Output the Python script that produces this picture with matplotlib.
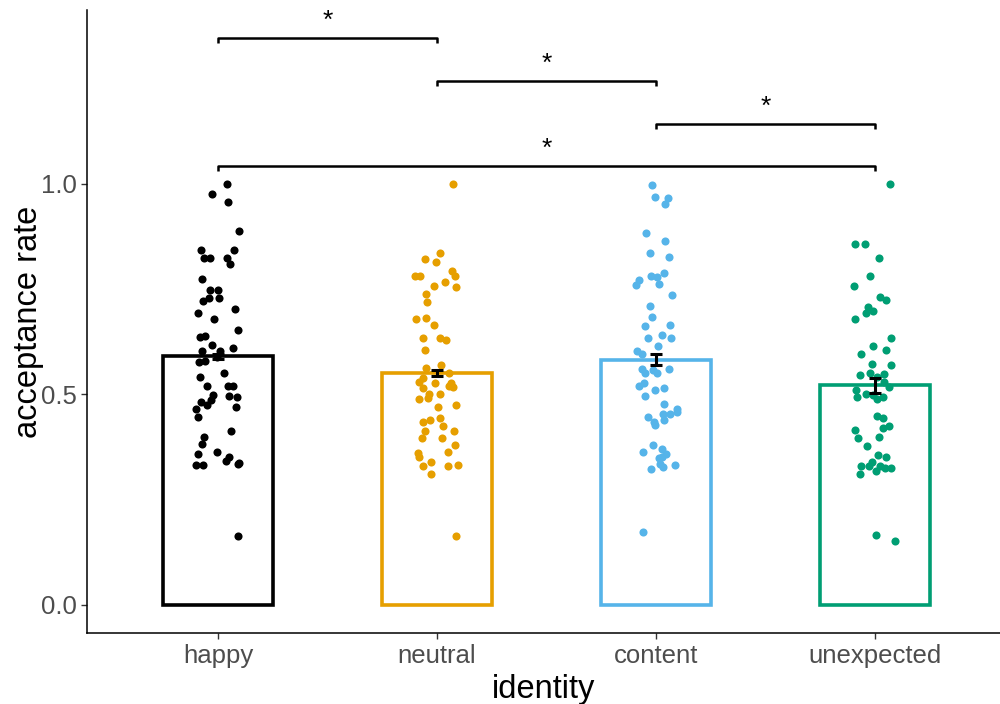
import numpy as np
import matplotlib
matplotlib.use("Agg")
import matplotlib.pyplot as plt

plt.rcParams['font.family'] = ['Liberation Sans', 'DejaVu Sans']

# groups, bar means and standard errors
groups = ['happy', 'neutral', 'content', 'unexpected']
colors = ['#000000', '#E69F00', '#56B4E9', '#009E73']
means = [0.591, 0.551, 0.582, 0.522]
errors = [0.006, 0.007, 0.013, 0.018]

# per-participant acceptance rates (jitter offset, value)
happy_dx = [0.040, -0.026, 0.044, 0.095, -0.076, 0.074, -0.064, -0.038, 0.040, 0.055,
            -0.073, -0.037, -0.001, -0.041, 0.003, -0.070, -0.090, 0.078, -0.020, 0.091,
            -0.084, -0.059, -0.027, 0.067, -0.074, 0.009, -0.006, -0.085, -0.059, 0.029,
            -0.081, -0.050, 0.044, 0.070, -0.021, 0.049, 0.087, -0.032, -0.078, -0.052,
            -0.100, 0.084, -0.090, 0.058, -0.065, -0.074, -0.090, -0.005, 0.050, 0.038,
            -0.100, -0.068, 0.090, 0.096, 0.090]
happy_y = [1.000, 0.975, 0.958, 0.888, 0.842, 0.844, 0.823, 0.825, 0.823, 0.810,
           0.774, 0.747, 0.748, 0.730, 0.730, 0.721, 0.694, 0.703, 0.678, 0.652,
           0.637, 0.639, 0.618, 0.611, 0.604, 0.602, 0.590, 0.576, 0.580, 0.550,
           0.542, 0.521, 0.520, 0.521, 0.498, 0.496, 0.495, 0.487, 0.481, 0.474,
           0.465, 0.470, 0.447, 0.414, 0.398, 0.382, 0.359, 0.363, 0.351, 0.343,
           0.333, 0.333, 0.335, 0.336, 0.164]

neutral_dx = [0.074, 0.015, -0.053, -0.006, -0.100, -0.078, 0.070, 0.084, 0.038, -0.012,
              0.088, -0.049, -0.047, -0.096, -0.050, -0.015, -0.063, 0.014, 0.042, -0.055,
              -0.052, 0.017, 0.055, -0.082, -0.063, -0.009, 0.064, -0.065, 0.074, 0.056,
              -0.038, 0.014, -0.084, -0.040, 0.087, 0.005, -0.064, -0.033, 0.014, 0.026,
              -0.055, 0.076, -0.067, 0.024, 0.081, 0.052, -0.085, -0.082, -0.064, -0.026,
              0.052, 0.095, -0.026, 0.087]
neutral_y = [1.000, 0.835, 0.821, 0.814, 0.780, 0.781, 0.793, 0.780, 0.767, 0.758,
             0.755, 0.739, 0.719, 0.678, 0.682, 0.664, 0.633, 0.633, 0.630, 0.606,
             0.562, 0.570, 0.550, 0.530, 0.538, 0.528, 0.527, 0.516, 0.517, 0.520,
             0.501, 0.501, 0.489, 0.491, 0.474, 0.470, 0.435, 0.440, 0.444, 0.425,
             0.414, 0.413, 0.396, 0.396, 0.380, 0.364, 0.360, 0.351, 0.330, 0.340,
             0.330, 0.332, 0.312, 0.163]

content_dx = [-0.018, -0.006, 0.056, 0.040, -0.046, 0.042, -0.029, 0.058, 0.035, -0.023,
              0.003, -0.079, -0.091, 0.014, 0.073, -0.026, -0.020, -0.049, 0.064, 0.027,
              -0.035, 0.068, 0.011, -0.085, -0.065, -0.063, -0.049, -0.015, 0.006, 0.061,
              -0.078, -0.056, -0.003, 0.038, -0.052, 0.038, -0.035, 0.031, 0.064, 0.097,
              0.096, -0.008, -0.005, 0.038, -0.014, -0.061, 0.029, 0.046, 0.012, 0.026,
              0.018, 0.031, -0.023, 0.085, -0.061]
content_y = [0.998, 0.968, 0.967, 0.953, 0.883, 0.864, 0.836, 0.826, 0.789, 0.781,
             0.779, 0.771, 0.760, 0.762, 0.736, 0.709, 0.684, 0.662, 0.665, 0.642,
             0.635, 0.633, 0.615, 0.603, 0.595, 0.561, 0.552, 0.558, 0.551, 0.561,
             0.519, 0.526, 0.511, 0.515, 0.496, 0.477, 0.447, 0.454, 0.454, 0.466,
             0.458, 0.434, 0.427, 0.439, 0.381, 0.363, 0.371, 0.359, 0.348, 0.351,
             0.335, 0.327, 0.322, 0.333, 0.173]

unexpected_dx = [0.070, -0.093, -0.047, 0.018, -0.024, -0.097, 0.024, 0.050, -0.033, -0.042,
                 -0.008, -0.091, 0.072, -0.011, -0.064, 0.052, -0.015, 0.072, -0.067, -0.021,
                 0.042, 0.008, 0.041, 0.063, -0.087, -0.081, -0.042, -0.009, 0.011, 0.038,
                 0.008, 0.035, -0.090, 0.037, 0.064, -0.076, 0.018, -0.038, 0.014, 0.049,
                 -0.065, -0.027, -0.012, 0.021, 0.046, 0.073, -0.068, 0.006, 0.003, 0.090]
unexpected_y = [1.000, 0.856, 0.857, 0.823, 0.780, 0.757, 0.731, 0.724, 0.707, 0.694,
                0.698, 0.679, 0.633, 0.616, 0.595, 0.605, 0.572, 0.569, 0.547, 0.552,
                0.548, 0.542, 0.529, 0.518, 0.511, 0.495, 0.501, 0.498, 0.489, 0.495,
                0.449, 0.443, 0.416, 0.421, 0.424, 0.396, 0.398, 0.377, 0.356, 0.351,
                0.329, 0.330, 0.339, 0.331, 0.325, 0.325, 0.310, 0.319, 0.165, 0.153]

points_dx = [happy_dx, neutral_dx, content_dx, unexpected_dx]
points_y = [happy_y, neutral_y, content_y, unexpected_y]

# significance comparisons (group index pairs) and bracket heights
comparisons = [(0, 1), (1, 2), (2, 3), (0, 3)]
bracket_y = [1.347, 1.245, 1.143, 1.043]
labels = ['*', '*', '*', '*']

fig = plt.figure(figsize=(10, 7.04), dpi=100)
ax = fig.add_axes([0.087, 0.1009, 0.913, 0.885])

x = np.arange(1, len(groups) + 1)

ax.bar(x, means, width=0.5, fill=False, edgecolor=colors, linewidth=2.6, zorder=2)

for i in range(len(groups)):
    ax.scatter(x[i] + np.array(points_dx[i]), points_y[i], s=34, color=colors[i],
               linewidths=0, zorder=3)

ax.errorbar(x, means, yerr=errors, fmt='none', ecolor='black', elinewidth=2.2,
            capsize=4.5, capthick=2.2, zorder=4)

# brackets with stars
tick = 0.012
for (a, b), yb, lab in zip(comparisons, bracket_y, labels):
    ax.plot([x[a], x[a], x[b], x[b]], [yb - tick, yb, yb, yb - tick],
            color='black', lw=1.8, solid_capstyle='butt', clip_on=False)
    ax.text((x[a] + x[b]) / 2, yb + 0.012, lab, ha='center', va='bottom',
            fontsize=19, color='black')

ax.set_xlim(0.402, 4.571)
ax.set_ylim(-0.0665, 1.413)
ax.set_xticks(x)
ax.set_xticklabels(groups)
ax.set_yticks([0.0, 0.5, 1.0])
ax.set_yticklabels(['0.0', '0.5', '1.0'])

for side in ['top', 'right']:
    ax.spines[side].set_visible(False)
for side in ['left', 'bottom']:
    ax.spines[side].set_linewidth(1.1)
    ax.spines[side].set_color('black')

ax.tick_params(axis='both', length=4, width=1, color='#333333',
               labelcolor='#4D4D4D', labelsize=18.5)
ax.tick_params(axis='x', pad=4)
ax.tick_params(axis='y', pad=3)

ax.set_xlabel('identity', fontsize=23.5, color='black', labelpad=4)
ax.set_ylabel('acceptance rate', fontsize=23.5, color='black', labelpad=-2)

fig.savefig('out.png', dpi=100)
